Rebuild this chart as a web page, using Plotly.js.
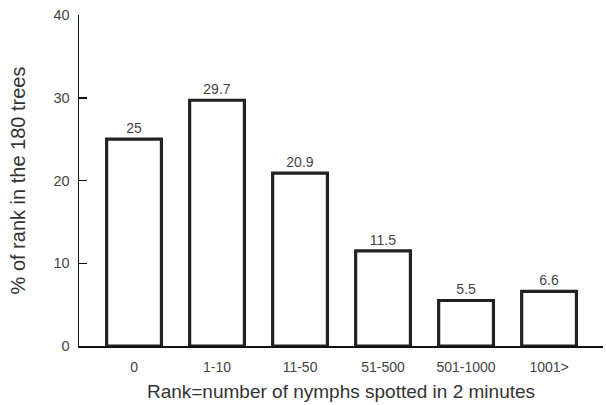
<!DOCTYPE html>
<html>
<head>
<meta charset="utf-8">
<script src="https://cdn.plot.ly/plotly-3.0.1.min.js"></script>
<style>html,body{margin:0;padding:0;background:#fff;}#chart{width:606px;height:405px;}</style>
</head>
<body>
<div id="chart"></div>
<script>
const categories = ["0", "1-10", "11-50", "51-500", "501-1000", "1001>"];
const percents = [25, 29.7, 20.9, 11.5, 5.5, 6.6];
const labels = ["25", "29.7", "20.9", "11.5", "5.5", "6.6"];

const fontFam = "Liberation Sans, Arial, sans-serif";
Plotly.newPlot("chart", [{
  type: "bar",
  x: categories,
  y: percents,
  text: labels,
  textposition: "outside",
  cliponaxis: false,
  textfont: {family: fontFam, size: 14, color: "#444"},
  width: 0.66,
  marker: {color: "#ffffff", line: {color: "#222", width: 3.2}},
  hoverinfo: "none"
}], {
  width: 606, height: 405,
  margin: {l: 79, r: 3, t: 15, b: 59},
  paper_bgcolor: "#fff", plot_bgcolor: "#fff",
  showlegend: false,
  font: {family: fontFam, color: "#333"},
  xaxis: {
    type: "category",
    range: [-0.663, 5.65],
    showline: true, linecolor: "#111", linewidth: 1.5,
    ticks: "", showgrid: false, zeroline: false,
    ticklabelstandoff: 8,
    tickfont: {family: fontFam, size: 14, color: "#444"},
    title: {text: "Rank=number of nymphs spotted in 2 minutes", font: {family: fontFam, size: 19, color: "#333"}, standoff: 10}
  },
  yaxis: {
    range: [0, 40], dtick: 10,
    showline: true, linecolor: "#111", linewidth: 1.5,
    ticks: "inside", ticklen: 8, tickwidth: 1.5, tickcolor: "#111",
    showgrid: false, zeroline: false,
    ticklabelstandoff: 5,
    tickfont: {family: fontFam, size: 14.5, color: "#444"},
    title: {text: "% of rank in the 180 trees", font: {family: fontFam, size: 20, color: "#333"}, standoff: 22}
  }
}, {displayModeBar: false, staticPlot: true});
</script>
</body>
</html>
